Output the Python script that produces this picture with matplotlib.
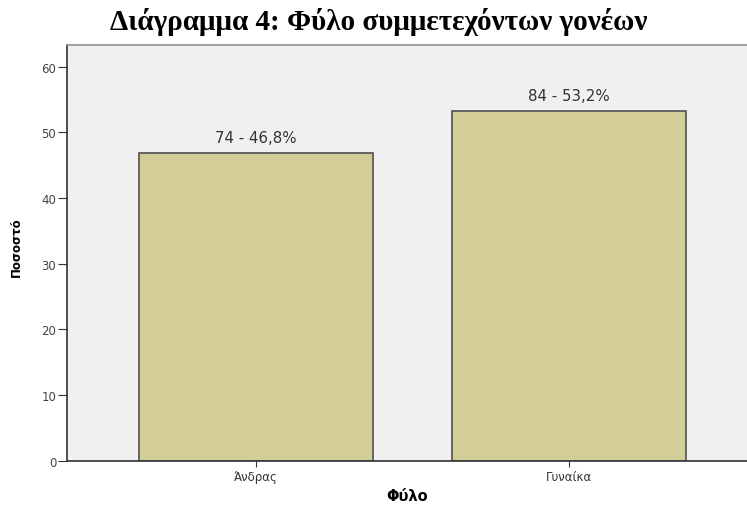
import numpy as np
import matplotlib.pyplot as plt

categories = ['Άνδρας', 'Γυναίκα']
counts = [74, 84]
percents = [46.8, 53.2]
labels = ['74 - 46,8%', '84 - 53,2%']

plt.rcParams['font.family'] = ['DejaVu Sans']

fig = plt.figure(figsize=(7.47, 5.06), dpi=100)
ax = fig.add_axes([0.0893, 0.0875, 0.9107, 0.8215])
ax.set_facecolor('#f0f0f0')

x = np.arange(len(categories))
bars = ax.bar(x, percents, width=0.75, color='#d3ce98', edgecolor='#505050', linewidth=1.2)

for xi, p, lab in zip(x, percents, labels):
    ax.text(xi, p + 1.3, lab, ha='center', va='bottom', fontsize=10.8, color='#333333')

ax.set_xlim(-0.607, 1.571)
ax.set_ylim(0, 63.3)
ax.set_yticks(range(0, 61, 10))
ax.set_xticks(x)
ax.set_xticklabels(categories)
ax.tick_params(axis='y', labelsize=8.5, length=6.5, pad=1, color='#333333', labelcolor='#444444')
ax.tick_params(axis='x', labelsize=8.5, length=4.5, pad=2, color='#333333', labelcolor='#333333')

for s in ['left', 'bottom']:
    ax.spines[s].set_color('#333333')
    ax.spines[s].set_linewidth(1.2)
ax.spines['top'].set_color('#909090')
ax.spines['top'].set_linewidth(1.2)
ax.spines['right'].set_visible(False)

ax.set_ylabel('Ποσοστό', fontsize=8.5, fontweight='bold')
ax.yaxis.set_label_coords(-0.064, 0.515)
ax.set_xlabel('Φύλο', fontsize=10.5, fontweight='bold', labelpad=4)

fig.text(0.507, 1 - 29.5 / 506, 'Διάγραμμα 4: Φύλο συμμετεχόντων γονέων', ha='center', va='baseline',
         fontsize=21, fontweight='bold', family=['Liberation Serif', 'DejaVu Serif'])

fig.savefig('out.png', dpi=100)
